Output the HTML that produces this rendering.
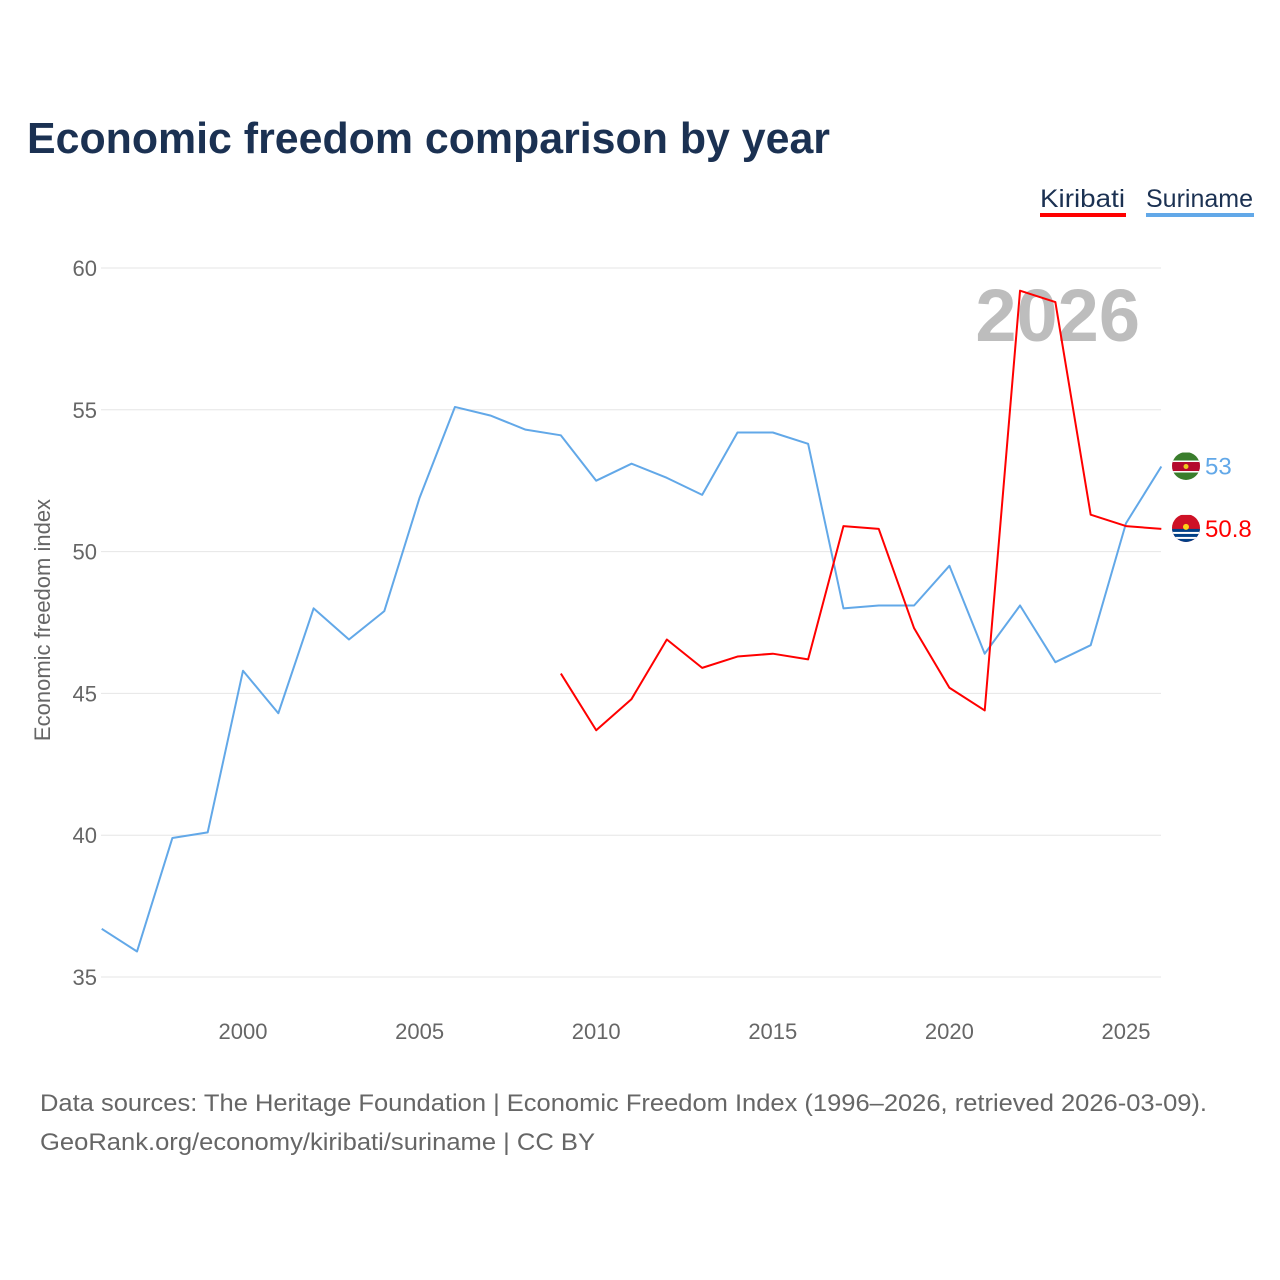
<!DOCTYPE html>
<html><head><meta charset="utf-8">
<style>
body{margin:0;background:#fff;font-family:"Liberation Sans",sans-serif;}
#wrap{position:relative;width:1280px;height:1280px;overflow:hidden;}
</style></head>
<body>
<div id="wrap">
<svg id="chart" width="1280" height="1280">
<defs>
<clipPath id="cs"><circle cx="1186" cy="466" r="14"/></clipPath>
<clipPath id="ck"><circle cx="1186" cy="528" r="14"/></clipPath>
</defs>
<text x="27" y="153" font-size="44" font-weight="bold" fill="#1b3152" textLength="803" lengthAdjust="spacingAndGlyphs">Economic freedom comparison by year</text>
<g><text x="1040" y="207" font-size="25" fill="#1b3152" textLength="85" lengthAdjust="spacingAndGlyphs">Kiribati</text><rect x="1040" y="213" width="86" height="4" fill="#ff0000"/></g>
<g><text x="1146" y="207" font-size="25" fill="#1b3152" textLength="107" lengthAdjust="spacingAndGlyphs">Suriname</text><rect x="1146" y="213" width="108" height="4" fill="#62a8e8"/></g>
<text x="1140" y="341" font-size="74" font-weight="bold" fill="#bdbdbd" text-anchor="end">2026</text>
<g id="grid"></g><g id="xticks"></g><g id="series"></g>
<text transform="translate(50,620) rotate(-90)" font-size="22" fill="#666" text-anchor="middle">Economic freedom index</text>
<text x="40" y="1111" font-size="24" fill="#666" textLength="1167" lengthAdjust="spacingAndGlyphs">Data sources: The Heritage Foundation | Economic Freedom Index (1996–2026, retrieved 2026-03-09).</text>
<text x="40" y="1150" font-size="24" fill="#666" textLength="555" lengthAdjust="spacingAndGlyphs">GeoRank.org/economy/kiribati/suriname | CC BY</text>
</svg>
</div>
<script>
const years=[1996,1997,1998,1999,2000,2001,2002,2003,2004,2005,2006,2007,2008,2009,2010,2011,2012,2013,2014,2015,2016,2017,2018,2019,2020,2021,2022,2023,2024,2025,2026];
const suriname=[36.7,35.9,39.9,40.1,45.8,44.3,48.0,46.9,47.9,51.9,55.1,54.8,54.3,54.1,52.5,53.1,52.6,52.0,54.2,54.2,53.8,48.0,48.1,48.1,49.5,46.4,48.1,46.1,46.7,51.0,53.0];
const kiribati=[null,null,null,null,null,null,null,null,null,null,null,null,null,45.7,43.7,44.8,46.9,45.9,46.3,46.4,46.2,50.9,50.8,47.3,45.2,44.4,59.2,58.8,51.3,50.9,50.8];
const yTicks=[35,40,45,50,55,60];
const xTicks=[2000,2005,2010,2015,2020,2025];
const NS="http://www.w3.org/2000/svg";
const X=y=>243+(y-2000)*35.32;
const Y=v=>268+(60-v)*28.36;
function mk(t,a,p){const e=document.createElementNS(NS,t);for(const k in a)e.setAttribute(k,a[k]);p.appendChild(e);return e;}
const grid=document.getElementById('grid');
yTicks.forEach(v=>{
 const l=mk('line',{x1:101,x2:1161,y1:Y(v),y2:Y(v),stroke:'#e6e6e6','stroke-width':1},grid);
 
 
 const t=mk('text',{x:97,y:Y(v)+8,'font-size':22,fill:'#666','text-anchor':'end'},grid);
 t.textContent=v;
 
 
});
const xt=document.getElementById('xticks');
xTicks.forEach(v=>{
 const t=mk('text',{x:X(v),y:1039,'font-size':22,fill:'#666','text-anchor':'middle'},xt);
 t.textContent=v;
 
 
});
const sg=document.getElementById('series');
function line(vals,color,name,flag){
 let d='';vals.forEach((v,i)=>{if(v==null)return;d+=(d?'L':'M')+X(years[i])+','+Y(v);});
 const p=mk('path',{d:d,fill:'none',stroke:color,'stroke-width':2,'stroke-linejoin':'round'},sg);
 
 
 const last=vals[vals.length-1];
 const cy=Y(last);
 const g=mk('g',{},sg);
 
 
 if(flag==='sr'){
  const c=mk('g',{'clip-path':'url(#cs)'},g);
  mk('rect',{x:1172,y:cy-14,width:28,height:28,fill:'#3a7d2c'},c);
  mk('rect',{x:1172,y:cy-6,width:28,height:12,fill:'#fff'},c);
  mk('rect',{x:1172,y:cy-4.5,width:28,height:9,fill:'#b40a2d'},c);
  mk('circle',{cx:1186,cy:cy,r:2.5,fill:'#ecc81d'},c);
 } else {
  const c=mk('g',{'clip-path':'url(#ck)'},g);
  mk('rect',{x:1172,y:cy-14,width:28,height:28,fill:'#ce1126'},c);
  mk('rect',{x:1172,y:cy,width:28,height:14,fill:'#003f87'},c);
  mk('rect',{x:1172,y:cy+3,width:28,height:2,fill:'#fff'},c);
  mk('rect',{x:1172,y:cy+8,width:28,height:2,fill:'#fff'},c);
  mk('circle',{cx:1186,cy:cy-2,r:3,fill:'#fcd116'},c);
 }
 const t=mk('text',{x:1205,y:cy+8,'font-size':24,fill:color},sg);
 t.textContent=last%1===0?last.toFixed(0):last;
 
 
}
line(suriname,'#62a8e8','suriname','sr');
line(kiribati,'#ff0000','kiribati','ki');
</script>
</body></html>
